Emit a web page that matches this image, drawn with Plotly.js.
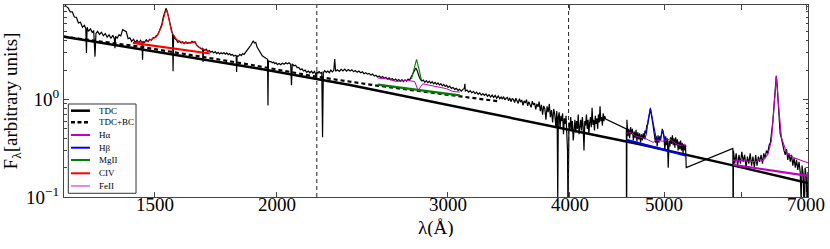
<!DOCTYPE html>
<html>
<head>
<meta charset="utf-8">
<script src="https://cdn.plot.ly/plotly-3.0.1.min.js"></script>
<style>
  html, body { margin: 0; padding: 0; background: #fff; }
  #chart { width: 830px; height: 249px; }
</style>
</head>
<body>
<div id="chart"></div>
<script>
// ---------------- data ----------------
// observed spectrum: wavelength (Å) and flux (arbitrary units)
const specWl = [
 1210,1214,1218,1222,1228,1234,1240,1246,1252,1258,1264,1270,1274,1276,1278,1282,1288,1294,1298,1302,
 1305,1310,1316,1322,1328,1334,1340,1346,1352,1358,1363,1365,1367,1372,1378,1384,1390,1396,1402,1408,
 1414,1420,1426,1432,1438,1444,1450,1455,1457,1459,1464,1470,1476,1482,1488,1494,1500,1505,1510,1515,
 1520,1525,1530,1535,1540,1544,1548,1552,1556,1560,1564,1566,1568,1573,1578,1584,1590,1596,1602,1608,
 1614,1620,1626,1632,1638,1644,1650,1656,1662,1668,1674,1679,1681,1683,1688,1694,1700,1706,1712,1718,
 1724,1730,1736,1742,1748,1754,1760,1766,1772,1778,1784,1790,1796,1802,1808,1814,1818,1820,1822,1828,
 1834,1840,1846,1852,1858,1864,1870,1876,1882,1888,1893,1898,1904,1910,1916,1922,1928,1934,1940,1946,
 1952,1958,1960,1962,1968,1974,1980,1986,1992,1998,2004,2012,2020,2028,2036,2044,2052,2060,2068,2072,
 2076,2084,2092,2100,2108,2116,2124,2132,2140,2148,2156,2164,2172,2180,2188,2194,2196,2200,2206,2212,
 2218,2226,2230,2234,2242,2250,2258,2266,2274,2282,2290,2295,2300,2310,2320,2330,2340,2350,2360,2370,
 2380,2390,2400,2410,2420,2430,2440,2450,2460,2470,2480,2490,2500,2510,2520,2530,2540,2550,2560,2570,
 2580,2590,2600,2610,2620,2630,2640,2650,2660,2670,2680,2690,2700,2710,2720,2730,2740,2750,2760,2770,
 2780,2788,2796,2804,2812,2820,2830,2840,2850,2860,2870,2880,2890,2900,2910,2920,2930,2940,2950,2960,
 2970,2980,2990,3000,3012,3024,3036,3048,3060,3072,3084,3096,3108,3118,3122,3126,3138,3150,3162,3174,
 3186,3198,3210,3222,3234,3246,3258,3270,3282,3294,3306,3318,3330,3342,3354,3366,3378,3390,
 3402,3412,3422,3432,3442,3452,3462,3472,3482,3492,3502,3512,3522,3532,3542,3552,3562,3572,3582,3592,
 3602,3612,3622,3632,3642,3652,3662,3672,3682,3692,3702,3712,3722,3732,3742,3752,3762,3772,3782,3792,
 3802,3812,3822,3832,3842,3852,3862,3872,3880,3884,3889,3894,3902,3910,3918,3926,3934,3942,3950,3958,
 3966,3974,3980,3984,3988,3994,4002,4010,4018,4026,4034,4042,4050,4058,4066,4074,4082,4090,4098,4106,
 4114,4122,4130,4138,4146,4154,4162,4170,4178,4186,4194,4202,4210,4218,4226,4234,4242,4250,4258,4266,
 4274,4282,4290,4298,4306,4314,4322,4330,4338,4346,4356,
 4574,4576,4580,4590,4600,4610,4620,4630,4640,4650,4660,4670,4680,4690,4700,4710,4720,4730,4740,4750,
 4760,4770,4780,4790,4800,4810,4820,4830,4840,4850,4860,4870,4880,4890,4900,4910,4920,4930,4940,4950,
 4960,4970,4980,4990,5000,5010,5020,5030,5040,5050,5060,5070,5080,5090,5100,5110,5120,5130,5140,5150,
 5160,5170,5180,5190,5200,5210,5220,5230,5240,5250,5260,5270,
 5884,5888,5892,5910,5930,5950,5970,5990,6010,6030,6050,6070,6090,6110,6130,6150,6170,6190,6210,6230,
 6250,6270,6290,6310,6330,6350,6370,6390,6410,6430,6450,6470,6490,6505,6520,6535,6550,6565,6580,6600,
 6620,6640,6660,6680,6700,6720,6740,6760,6780,6800,6820,6840,6860,6880,6900,6915,6930,6950,6965,6980,
 7000,7010,7028
];
const specFlux = [
 10.2,9.2,8.9,8.7,7.9,7.9,7.0,6.95,6.1,6.2,5.5,5.75,5.3,3.0,5.5,5.0,5.3,4.85,5.1,2.75,
 4.75,5.0,4.65,4.9,4.5,4.75,4.35,4.6,4.25,4.55,4.2,3.35,4.45,4.25,4.6,4.5,5.2,5.1,4.95,4.2,
 4.3,3.95,4.15,3.85,4.05,3.8,4.05,3.85,2.55,3.95,3.85,4.1,3.9,4.15,4.05,4.3,4.3,4.5,4.55,4.95,
 5.3,5.9,7.0,7.6,8.6,8.1,7.2,6.3,5.6,5.0,4.7,1.95,4.55,4.2,4.1,3.85,3.95,3.8,3.9,3.75,
 3.9,3.75,3.85,3.8,3.95,3.85,3.9,3.6,3.5,3.45,3.3,3.38,2.42,3.3,3.2,3.28,3.1,3.18,3.05,3.12,
 3.0,3.1,2.95,3.05,2.93,3.02,2.95,3.03,2.92,3.0,2.88,2.96,2.85,2.9,2.78,2.85,2.8,1.92,2.8,2.78,
 2.9,2.82,2.95,2.9,3.05,3.15,3.3,3.45,3.6,3.85,4.0,3.8,3.85,3.45,3.25,3.05,2.95,2.8,2.75,2.7,
 2.6,2.58,0.87,2.5,2.45,2.45,2.38,2.42,2.33,2.38,2.28,2.34,2.27,2.35,2.3,2.38,2.32,2.38,2.3,1.4,
 2.32,2.22,2.25,2.12,2.13,2.02,2.06,1.96,2.0,1.9,1.96,1.88,1.95,1.86,1.94,1.82,1.6,1.93,1.85,1.95,
 1.86,1.9,0.41,1.88,1.97,1.9,1.96,1.88,2.0,1.92,1.98,2.6,1.95,2.02,1.94,2.04,1.96,2.05,1.95,2.03,
 1.96,2.02,1.93,1.98,1.9,1.96,1.88,1.92,1.84,1.88,1.82,1.85,1.78,1.82,1.74,1.77,1.7,1.74,1.67,1.72,
 1.65,1.69,1.62,1.67,1.6,1.64,1.57,1.62,1.56,1.6,1.54,1.6,1.53,1.59,1.54,1.62,1.58,1.7,1.85,2.0,
 2.1,2.0,1.8,1.68,1.6,1.55,1.58,1.5,1.56,1.49,1.54,1.47,1.52,1.45,1.5,1.43,1.48,1.41,1.45,1.38,
 1.43,1.36,1.4,1.33,1.37,1.3,1.33,1.27,1.3,1.24,1.27,1.22,1.27,1.3,1.45,1.22,1.25,1.19,1.23,1.17,
 1.21,1.15,1.19,1.13,1.17,1.11,1.15,1.1,1.14,1.08,1.12,1.06,1.11,1.05,1.1,1.03,1.09,1.02,
 1.06,1.01,1.07,0.99,1.03,1.05,0.97,1.04,0.95,1.02,1.0,0.93,1.03,0.96,0.91,1.02,0.94,0.99,0.87,0.97,
 0.92,1.0,0.86,0.95,0.9,0.83,0.96,0.88,0.92,0.79,0.9,0.84,0.95,0.76,0.88,0.7,0.86,0.8,0.62,0.85,
 0.74,0.9,0.66,0.78,0.58,0.8,0.7,0.52,0.76,0.6,0.09,0.66,0.74,0.5,0.68,0.6,0.72,0.44,0.64,0.56,
 0.68,0.4,0.3,0.07,0.32,0.58,0.48,0.66,0.5,0.6,0.38,0.56,0.62,0.46,0.6,0.5,0.7,0.44,0.56,0.62,
 0.48,0.66,0.52,0.3,0.6,0.54,0.7,0.5,0.62,0.44,0.58,0.66,0.52,0.82,0.55,0.62,0.48,0.68,0.56,0.64,
 0.5,0.7,0.58,0.85,0.6,0.66,0.54,0.72,0.6,0.68,0.63,
 0.5,0.02,0.62,0.42,0.5,0.4,0.52,0.44,0.5,0.38,0.47,0.4,0.49,0.37,0.46,0.39,0.45,0.36,0.44,0.38,
 0.45,0.4,0.48,0.45,0.54,0.55,0.66,0.7,0.8,0.74,0.64,0.56,0.46,0.44,0.36,0.42,0.33,0.43,0.36,0.42,
 0.38,0.44,0.5,0.46,0.4,0.3,0.42,0.34,0.4,0.2,0.38,0.33,0.41,0.35,0.43,0.34,0.4,0.32,0.41,0.34,
 0.39,0.3,0.37,0.31,0.38,0.3,0.36,0.28,0.35,0.3,0.34,0.2,
 0.315,0.02,0.3,0.22,0.28,0.21,0.27,0.22,0.29,0.23,0.27,0.2,0.26,0.22,0.28,0.21,0.26,0.2,0.27,0.21,
 0.26,0.23,0.27,0.22,0.28,0.25,0.3,0.28,0.34,0.36,0.45,0.62,0.95,1.35,1.75,1.35,0.9,0.6,0.45,0.4,
 0.33,0.3,0.27,0.31,0.24,0.28,0.23,0.27,0.21,0.25,0.2,0.24,0.19,0.23,0.18,0.09,0.21,0.17,0.06,0.2,
 0.16,0.05,0.18
];

// thin disk continuum (TDC) and TDC + Balmer continuum
const tdcWl   = [1210, 1517, 1923, 2379, 3013, 3726, 4721, 5884, 7028];
const tdcFlux = [4.41, 3.05, 2.07, 1.41, 0.871, 0.570, 0.348, 0.211, 0.139];
const bcWl    = [1210, 1447, 1878, 2200, 2535, 3013, 3391];
const bcFlux  = [4.41, 3.48, 2.28, 1.71, 1.39, 1.10, 0.954];

// local continua (thick)
const civContWl = [1424, 1708],  civContFlux = [3.81, 2.96];
const mgContWl  = [2541, 3085],  mgContFlux  = [1.42, 1.10];
const hbContWl  = [4575, 5272],  hbContFlux  = [0.387, 0.265];
const haContWl  = [5886, 7028],  haContFlux  = [0.214, 0.165];

// line profiles (thin)
const civWl   = [1427,1471,1506,1524,1536,1542,1548,1560,1579,1603,1636,1648,1661,1708];
const civFlux = [3.81,3.93,4.39,5.57,7.65,8.27,7.34,4.94,4.13,3.81,3.81,3.90,3.46,3.07];
const mgWl    = [2752, 2767, 2785, 2800, 2818];
const mgFlux  = [1.63, 1.99, 2.58, 2.09, 1.57];
const hbWl    = [4777, 4797, 4815, 4842, 4872, 4911, 4950, 4988, 5017];
const hbFlux  = [0.39, 0.45, 0.61, 0.82, 0.58, 0.39, 0.39, 0.48, 0.36];
const haWl    = [5886, 6221, 6270, 6319, 6394, 6446, 6481, 6522, 6562, 6600, 6678, 6784, 7028];
const haFlux  = [0.239,0.230,0.245,0.235,0.276,0.378,0.770,1.726,0.770,0.409,0.286,0.254,0.224];
const feUvWl    = [2541, 2594, 2656, 2720, 2773, 2795, 2826, 2894, 2943, 2989, 3034, 3085];
const feUvFlux  = [1.66, 1.63, 1.53, 1.57, 1.53, 1.24, 1.45, 1.39, 1.34, 1.29, 1.21, 1.19];
const feOptWl   = [4575, 4629, 4666, 4721, 4797, 4872, 4911, 4988, 5068, 5149, 5210, 5251, 5272];
const feOptFlux = [0.449,0.460,0.425,0.409,0.393,0.363,0.384,0.372,0.393,0.350,0.336,0.350,0.328];

// marker wavelengths (vertical dashed lines)
const markWl = [2200, 3990];

// axis ticks
const xTickVals = [1500, 2000, 3000, 4000, 5000, 6000, 7000];
const xTickText = ['1500', '2000', '3000', '4000', '5000', '', '7000'];
const yTickVals = [0.1, 1];
const yTickText = ['10<sup>\u22121</sup>', '10<sup>0</sup>'];
const yMinorVals = [0.2,0.3,0.4,0.5,0.6,0.7,0.8,0.9,2,3,4,5,6,7,8,9];

// legend entries
const legendLabels = ['TDC', 'TDC+BC', 'H\u03b1', 'H\u03b2', 'MgII', 'CIV', 'FeII'];
const xTitle = '\u03bb(\u00c5)';
const yTitle = 'F<sub>\u03bb</sub>[arbitrary units]';

// ---------------- styles ----------------
const FONT = 'Liberation Serif';
const MAG = '#bf00bf', BLU = '#0000ff', GRN = '#008000', RED = '#ff0000';
const legendStyles = [
  {color: '#000', width: 2.5, dash: 'solid'},
  {color: '#000', width: 2.5, dash: '4px,2.5px'},
  {color: MAG, width: 2, dash: 'solid'},
  {color: BLU, width: 2, dash: 'solid'},
  {color: GRN, width: 2, dash: 'solid'},
  {color: RED, width: 2, dash: 'solid'},
  {color: MAG, width: 0.9, dash: 'solid'}
];

function tr(x, y, color, width, dash) {
  return {x: x, y: y, type: 'scatter', mode: 'lines', hoverinfo: 'skip',
          line: {color: color, width: width, dash: dash || 'solid'}};
}

const traces = [
  tr(specWl, specFlux, '#000', 1.2),
  tr(tdcWl, tdcFlux, '#000', 2.5),
  tr(bcWl, bcFlux, '#000', 2.2, '4px,3px'),
  tr(civContWl, civContFlux, RED, 2.2),
  tr(mgContWl, mgContFlux, GRN, 2.2),
  tr(hbContWl, hbContFlux, BLU, 2.2),
  tr(haContWl, haContFlux, MAG, 2.2),
  tr(feUvWl, feUvFlux, MAG, 1),
  tr(feOptWl, feOptFlux, MAG, 1),
  tr(civWl, civFlux, RED, 1.1),
  tr(mgWl, mgFlux, GRN, 1.1),
  tr(hbWl, hbFlux, BLU, 1.1),
  tr(haWl, haFlux, MAG, 1.1)
];

// ---------------- layout ----------------
const shapes = markWl.map(w => ({
  type: 'line', xref: 'x', yref: 'paper', x0: w, x1: w, y0: 0, y1: 1,
  line: {color: '#222', width: 1, dash: '4px,3px'}
}));

const annotations = [];
// x tick labels (placed close under the axis, as in the reference)
xTickVals.forEach((v, i) => {
  if (!xTickText[i]) return;
  annotations.push({xref: 'x', yref: 'paper', x: Math.log10(v), y: 0,
    xanchor: 'center', yanchor: 'middle', yshift: -7, height: 15, valign: 'middle',
    showarrow: false, borderpad: 0,
    text: xTickText[i], font: {family: FONT, size: 19, color: '#000'}});
});
// x axis title
annotations.push({xref: 'paper', yref: 'paper', x: 0.5, y: 0,
  xanchor: 'center', yanchor: 'middle', yshift: -30, height: 19, valign: 'middle',
  showarrow: false, borderpad: 0,
  text: xTitle, font: {family: FONT, size: 19, color: '#000'}});

// legend box (paper coordinates of the plot area)
shapes.push({type: 'rect', xref: 'paper', yref: 'paper',
  x0: 0.0058, x1: 0.0968, y0: 0.0193, y1: 0.4844,
  line: {color: '#333', width: 1}, fillcolor: '#fff', layer: 'above'});
const rowY = [0.4495, 0.3891, 0.3229, 0.2568, 0.1927, 0.1234, 0.0573];
legendLabels.forEach((lab, i) => {
  const st = legendStyles[i];
  shapes.push({type: 'line', xref: 'paper', yref: 'paper',
    x0: 0.0094, x1: 0.0349, y0: rowY[i], y1: rowY[i], layer: 'above',
    line: {color: st.color, width: st.width, dash: st.dash}});
  annotations.push({xref: 'paper', yref: 'paper', x: 0.0439, y: rowY[i],
    xanchor: 'left', yanchor: 'middle', showarrow: false, text: lab,
    font: {family: FONT, size: 9, color: '#000'}});
});

const layout = {
  width: 830, height: 249,
  margin: {l: 64, r: 22, t: 5, b: 52},
  paper_bgcolor: '#fff', plot_bgcolor: '#fff',
  showlegend: false,
  font: {family: FONT, size: 19, color: '#000'},
  xaxis: {
    type: 'log', range: [Math.log10(1210), Math.log10(7028)],
    tickmode: 'array', tickvals: xTickVals, showticklabels: false,
    ticks: 'inside', ticklen: 5, tickwidth: 1, tickcolor: '#444',
    showline: true, linecolor: '#444', linewidth: 1, mirror: 'ticks',
    showgrid: false, zeroline: false
  },
  yaxis: {
    type: 'log', range: [-1, 0.969],
    tickmode: 'array', tickvals: yTickVals, ticktext: yTickText,
    ticks: 'inside', ticklen: 5, tickwidth: 1, tickcolor: '#444',
    minor: {tickmode: 'array', tickvals: yMinorVals, ticks: 'inside', ticklen: 2.5, tickcolor: '#444', showgrid: false},
    showline: true, linecolor: '#444', linewidth: 1, mirror: 'allticks',
    showgrid: false, zeroline: false,
    tickfont: {family: FONT, size: 19},
    title: {text: yTitle, standoff: 6, font: {family: FONT, size: 19}}
  },
  shapes: shapes,
  annotations: annotations
};

Plotly.newPlot('chart', traces, layout, {staticPlot: true, displayModeBar: false});
</script>
</body>
</html>
